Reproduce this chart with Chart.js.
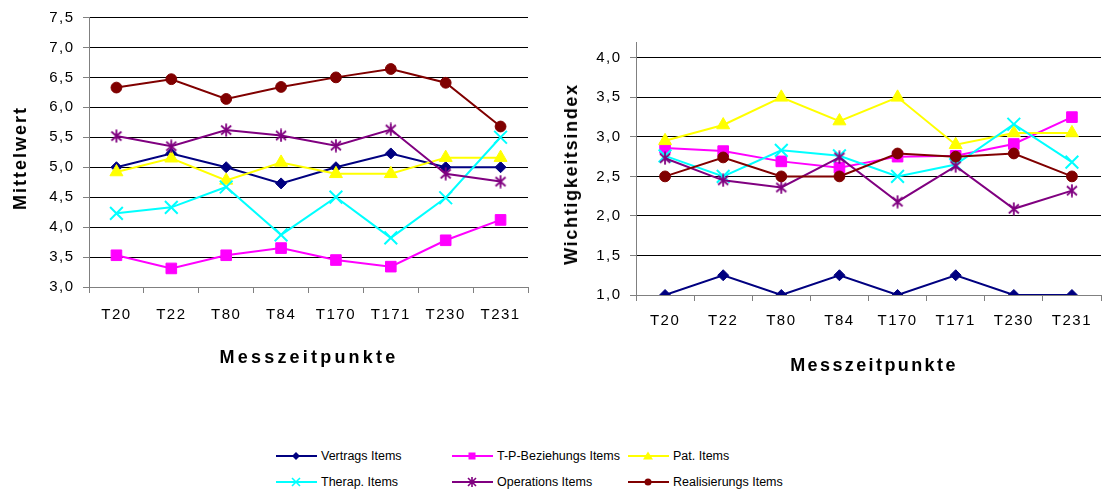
<!DOCTYPE html>
<html>
<head>
<meta charset="utf-8">
<script src="https://cdn.jsdelivr.net/npm/chart.js@4.4.0/dist/chart.umd.min.js"></script>
<style>
  html, body { margin: 0; padding: 0; background: #fff; width: 1112px; height: 492px; overflow: hidden;
    font-family: "Liberation Sans", Arial, sans-serif; }
  canvas { position: absolute; top: 0; }
  #left { left: 0; }
  #right { left: 540px; }
  .axis-title { position: absolute; font-weight: bold; font-size: 18px; white-space: nowrap; color: #000;
    transform: translate(-50%, -50%); line-height: 1; }
  .axis-title.rot { transform: translate(-50%, -50%) rotate(-90deg); }
  .legend-item { position: absolute; height: 14px; display: flex; align-items: center; font-size: 12.5px; color: #000; white-space: nowrap; }
  .legend-item svg { margin-right: 4px; }
</style>
</head>
<body>
<canvas id="left" width="540" height="375"></canvas>
<canvas id="right" width="572" height="380"></canvas>

<div class="axis-title rot" style="left:20px; top:158px; letter-spacing:2px;">Mittelwert</div>
<div class="axis-title" style="left:309px; top:357px; letter-spacing:3.2px;">Messzeitpunkte</div>
<div class="axis-title rot" style="left:571px; top:174px; letter-spacing:1.7px;">Wichtigkeitsindex</div>
<div class="axis-title" style="left:874px; top:365px; letter-spacing:2.4px;">Messzeitpunkte</div>

<div id="legend"></div>

<script>
// Measurement points
const categories = ['T20', 'T22', 'T80', 'T84', 'T170', 'T171', 'T230', 'T231'];

// Item groups
const seriesNames = ['Vertrags Items', 'T-P-Beziehungs Items', 'Pat. Items', 'Therap. Items', 'Operations Items', 'Realisierungs Items'];

// Mean values (left chart)
const vertragsMean    = [5.00, 5.23, 5.00, 4.73, 5.00, 5.23, 5.00, 5.00];
const beziehungMean   = [3.53, 3.31, 3.53, 3.65, 3.45, 3.34, 3.78, 4.12];
const patMean         = [4.92, 5.15, 4.78, 5.08, 4.89, 4.89, 5.16, 5.16];
const therapMean      = [4.23, 4.33, 4.67, 3.87, 4.50, 3.82, 4.49, 5.50];
const operationsMean  = [5.52, 5.35, 5.62, 5.53, 5.36, 5.63, 4.89, 4.76];
const realisierungMean= [6.33, 6.47, 6.14, 6.34, 6.50, 6.64, 6.41, 5.68];

// Importance index (right chart)
const vertragsIndex    = [1.00, 1.25, 1.00, 1.25, 1.00, 1.25, 1.00, 1.00];
const beziehungIndex   = [2.86, 2.82, 2.69, 2.61, 2.75, 2.76, 2.91, 3.25];
const patIndex         = [2.95, 3.15, 3.50, 3.20, 3.50, 2.90, 3.05, 3.05];
const therapIndex      = [2.76, 2.50, 2.83, 2.76, 2.50, 2.65, 3.16, 2.68];
const operationsIndex  = [2.73, 2.45, 2.36, 2.74, 2.18, 2.63, 2.09, 2.32];
const realisierungIndex= [2.50, 2.74, 2.50, 2.50, 2.79, 2.75, 2.79, 2.50];

// Y tick settings
const meanTicks  = { min: 3.0, max: 7.5, step: 0.5, top: 7.5 };
const indexTicks = { min: 1.0, max: 4.2, step: 0.5, top: 4.0 };

const colors = ['#000080', '#FF00FF', '#FFFF00', '#00FFFF', '#800080', '#800000'];

// Asterisk marker (X with a vertical bar)
function makeAsterisk(color) {
  const c = document.createElement('canvas');
  c.width = 14; c.height = 14;
  const g = c.getContext('2d');
  g.strokeStyle = color; g.lineWidth = 1.8; g.lineCap = 'butt';
  g.beginPath();
  g.moveTo(2, 2.5); g.lineTo(12, 11.5);
  g.moveTo(12, 2.5); g.lineTo(2, 11.5);
  g.moveTo(7, 0.5); g.lineTo(7, 13.5);
  g.stroke();
  return c;
}
const asterisk = makeAsterisk(colors[4]);

const markers = [
  { pointStyle: 'rectRot', pointRadius: 5.5, pointBorderWidth: 1 },
  { pointStyle: 'rect', pointRadius: 7.5, pointBorderWidth: 1 },
  { pointStyle: 'triangle', pointRadius: 7.5, pointBorderWidth: 1 },
  { pointStyle: 'crossRot', pointRadius: 9, pointBorderWidth: 2 },
  { pointStyle: asterisk, pointRadius: 7, pointBorderWidth: 1 },
  { pointStyle: 'circle', pointRadius: 5.4, pointBorderWidth: 1 }
];

function buildDatasets(seriesValues) {
  return seriesValues.map((vals, i) => Object.assign({
    label: seriesNames[i],
    data: vals,
    borderColor: colors[i],
    backgroundColor: colors[i],
    pointBackgroundColor: colors[i],
    pointBorderColor: colors[i],
    borderWidth: 2,
    tension: 0,
    order: seriesValues.length - i
  }, markers[i]));
}

const fmt = v => v.toFixed(1).replace('.', ',');

// Slightly widened tick lettering
const spacedText = {
  id: 'spacedText',
  beforeDraw(chart) { chart.ctx.letterSpacing = '1.5px'; }
};

function makeChart(id, seriesValues, tk, geom) {
  return new Chart(document.getElementById(id), {
    type: 'line',
    data: { labels: categories, datasets: buildDatasets(seriesValues) },
    plugins: [spacedText],
    options: {
      responsive: false,
      animation: false,
      devicePixelRatio: 1,
      events: [],
      layout: { padding: { top: geom.top, right: geom.right, left: 0, bottom: 0 } },
      plugins: { legend: { display: false }, tooltip: { enabled: false } },
      scales: {
        x: {
          offset: true,
          grid: { offset: true, drawOnChartArea: false, drawTicks: true, tickLength: 6, color: '#808080', tickColor: '#808080' },
          border: { display: true, color: '#808080', width: 1 },
          ticks: { color: '#000', font: { family: 'Liberation Sans', size: 15 }, padding: geom.xPad, maxRotation: 0, autoSkip: false },
          afterFit: s => { s.height = geom.xHeight; }
        },
        y: {
          min: tk.min, max: tk.max,
          grid: {
            color: ctx => (ctx.tick && Math.abs(ctx.tick.value - tk.min) < 1e-6) ? 'rgba(0,0,0,0)' : '#000',
            tickColor: '#808080', tickLength: 6, lineWidth: 1
          },
          border: { display: true, color: '#808080', width: 1 },
          ticks: { stepSize: tk.step, includeBounds: false, autoSkip: false, color: '#000',
                   font: { family: 'Liberation Sans', size: 15 }, padding: 8.5, callback: v => fmt(v) },
          afterBuildTicks: s => { s.ticks = s.ticks.filter(t => t.value <= tk.top + 1e-6); },
          afterFit: s => { s.width = geom.yWidth; }
        }
      }
    }
  });
}

makeChart('left',
  [vertragsMean, beziehungMean, patMean, therapMean, operationsMean, realisierungMean],
  meanTicks,
  { top: 17, right: 12, xHeight: 88, yWidth: 89, xPad: 13 });

makeChart('right',
  [vertragsIndex, beziehungIndex, patIndex, therapIndex, operationsIndex, realisierungIndex],
  indexTicks,
  { top: 42, right: 0, xHeight: 85, yWidth: 96, xPad: 11 });

// Legend (three columns, two rows)
const legendPos = [
  [276, 456], [452, 456], [628, 456],
  [276, 482], [452, 482], [628, 482]
];
function markerSvg(i) {
  const c = colors[i];
  const cx = 20, cy = 7;
  let m = '';
  switch (i) {
    case 0: m = `<polygon points="${cx},${cy-4} ${cx+4},${cy} ${cx},${cy+4} ${cx-4},${cy}" fill="${c}"/>`; break;
    case 1: m = `<rect x="${cx-3.5}" y="${cy-3.5}" width="7" height="7" fill="${c}"/>`; break;
    case 2: m = `<polygon points="${cx},${cy-4.5} ${cx+5},${cy+3.5} ${cx-5},${cy+3.5}" fill="${c}"/>`; break;
    case 3: m = `<path d="M${cx-4},${cy-4}L${cx+4},${cy+4}M${cx+4},${cy-4}L${cx-4},${cy+4}" stroke="${c}" stroke-width="1.6"/>`; break;
    case 4: m = `<path d="M${cx-4},${cy-4}L${cx+4},${cy+4}M${cx+4},${cy-4}L${cx-4},${cy+4}M${cx},${cy-5}L${cx},${cy+5}" stroke="${c}" stroke-width="1.6"/>`; break;
    case 5: m = `<circle cx="${cx}" cy="${cy}" r="3.5" fill="${c}"/>`; break;
  }
  return `<svg width="41" height="14" viewBox="0 0 41 14"><line x1="0" y1="7" x2="41" y2="7" stroke="${c}" stroke-width="2"/>${m}</svg>`;
}
const legend = document.getElementById('legend');
seriesNames.forEach((name, i) => {
  const d = document.createElement('div');
  d.className = 'legend-item';
  d.style.left = legendPos[i][0] + 'px';
  d.style.top = (legendPos[i][1] - 7) + 'px';
  d.innerHTML = markerSvg(i) + '<span>' + name + '</span>';
  legend.appendChild(d);
});
</script>
</body>
</html>
